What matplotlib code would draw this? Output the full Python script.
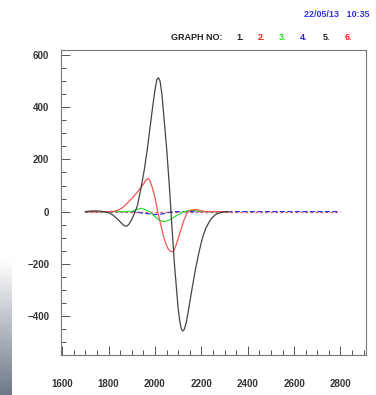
import numpy as np
import matplotlib
matplotlib.use('Agg')
import matplotlib.pyplot as plt
from matplotlib.ticker import MultipleLocator

plt.rcParams['font.family'] = ['Liberation Sans', 'DejaVu Sans']

# graph 1 (black)
g1_x = [1700, 1720, 1740, 1760, 1780, 1800, 1820, 1840, 1860, 1870, 1880, 1890, 1900, 1915,
        1925, 1940, 1955, 1968, 1980, 1990, 2000, 2008, 2015, 2022, 2030, 2040, 2051, 2062,
        2072, 2084, 2100, 2108, 2114, 2120, 2126, 2135, 2145, 2160, 2175, 2190, 2205, 2220,
        2240, 2260, 2280, 2300, 2315]
g1_y = [0, 2, 3, 2, 0, -4, -14, -30, -48, -55, -55, -46, -30, 0,
        25, 90, 165, 245, 330, 400, 465, 505, 513, 500, 450, 350, 236, 100,
        -40, -200, -370, -425, -450, -457, -452, -425, -375, -295, -220, -155, -100, -62,
        -30, -12, -4, -1, 0]

# graph 2 (red)
g2_x = [1700, 1800, 1820, 1840, 1860, 1880, 1900, 1920, 1940, 1950, 1960, 1967, 1973, 1980,
        1990, 2000, 2012, 2025, 2040, 2055, 2068, 2077, 2085, 2095, 2110, 2125, 2140, 2150,
        2165, 2180, 2200, 2220, 2320]
g2_y = [0, 0, 1, 5, 15, 32, 50, 70, 93, 105, 119, 126, 126, 115,
        88, 55, 0, -50, -105, -140, -153, -153, -143, -118, -75, -33, -3, 4,
        7, 8, 3, 0, 0]

# graph 3 (green)
g3_x = [1700, 1880, 1900, 1920, 1940, 1955, 1976, 1995, 2015, 2030, 2041, 2060, 2080,
        2100, 2115, 2127, 2145, 2165, 2185, 2210, 2320]
g3_y = [0, 0, 1, 8, 13, 9, 0, -15, -30, -37, -38, -33, -22,
        -12, -4, 0, 4, 5, 2, 0, 0]

# graph 4 (blue)
g4_x = [1700, 1900, 1920, 1950, 1980, 2005, 2030, 2050, 2070, 2090, 2800]
g4_y = [0, 0, -2, -6, -9, -11, -9, -5, -1, 0, 0]

# graph 6 (red, dashed)
g6_x = [1700, 2000, 2400, 2800]
g6_y = [0, 0, 0, 0]

legend_nums = ['1.', '2.', '3.', '4.', '5.', '6.']
legend_cols = ['#222222', '#ee2222', '#22dd22', '#2222ee', '#222222', '#ee2222']

fig = plt.figure(figsize=(3.76, 3.95), dpi=100)
fig.patch.set_facecolor('white')

# screenshot shading strip on the lower left
strip = fig.add_axes([0, 0, 12 / 376, 135 / 395])
grad = np.linspace(1, 0, 256).reshape(-1, 1)
strip.imshow(grad, aspect='auto', cmap=matplotlib.colors.LinearSegmentedColormap.from_list(
    'strip', ['#6e7888', '#ffffff']), extent=[0, 1, 0, 1])
strip.axis('off')

ax = fig.add_axes([61 / 376, 40 / 395, 305 / 376, 305.3 / 395])
ax.plot(g6_x, g6_y, color='#ee5566', lw=0.9, ls=(0, (2, 2)))
ax.plot(g4_x, g4_y, color='#3333dd', lw=0.9, ls=(0, (4, 2)))
ax.plot(g3_x, g3_y, color='#33dd33', lw=0.9)
ax.plot(g2_x, g2_y, color='#ee5555', lw=0.9)
ax.plot(g1_x, g1_y, color='#444444', lw=0.9)

ax.set_xlim(1595, 2910)
ax.set_ylim(-549, 620)
ax.xaxis.set_major_locator(MultipleLocator(200))
ax.xaxis.set_minor_locator(MultipleLocator(50))
ax.yaxis.set_major_locator(MultipleLocator(200))
ax.yaxis.set_minor_locator(MultipleLocator(50))
ax.tick_params(which='both', direction='in', top=False, right=False, color='#555555')
ax.tick_params(which='major', length=6.5, width=0.7)
ax.tick_params(which='minor', length=3.5, width=0.7)
ax.tick_params(axis='y', which='major', pad=8.5)
ax.tick_params(axis='x', which='major', pad=17)
for lab in ax.get_xticklabels() + ax.get_yticklabels():
    lab.set_fontsize(7)
    lab.set_fontweight('bold')
    lab.set_color('#333333')
for sp in ax.spines.values():
    sp.set_color('#777777')
    sp.set_linewidth(0.8)

fig.text(369 / 376, 1 - 14.5 / 395, '22/05/13   10:35', ha='right', va='center',
         fontsize=6.5, fontweight='bold', color='#3333dd')
fig.text(222 / 376, 1 - 37 / 395, 'GRAPH NO:', ha='right', va='center',
         fontsize=6.5, fontweight='bold', color='#222222')
num_pos = [240, 261, 283, 304, 326, 348]
for px, txt, c in zip(num_pos, legend_nums, legend_cols):
    fig.text(px / 376, 1 - 37 / 395, txt, ha='center', va='center',
             fontsize=6.5, fontweight='bold', color=c)

fig.savefig('out.png', dpi=100)
